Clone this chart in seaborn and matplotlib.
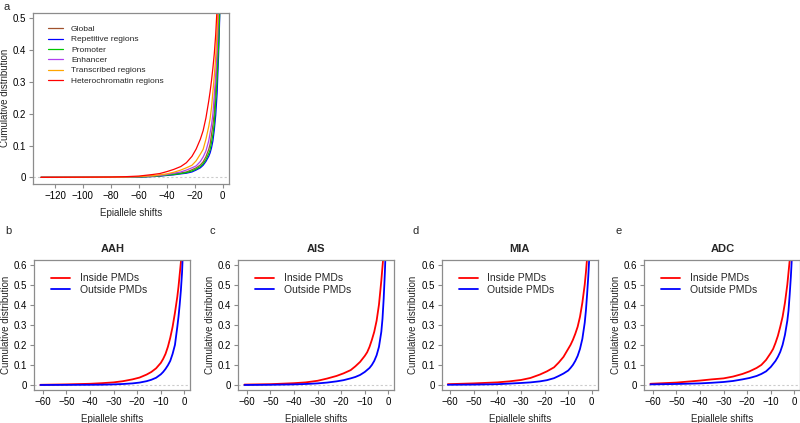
import numpy as np
import pandas as pd
import matplotlib
matplotlib.use('Agg')
import matplotlib.pyplot as plt
import seaborn as sns

# panel a: cumulative distribution read at each epiallele shift
shift_a = [-130, -100, -80, -70, -60, -50, -45, -40, -35, -30, -26, -22, -19, -16,
           -14, -12, -10, -9, -8, -7, -6, -5, -4, -3, -2.5, -2]
cum_global = [0, 0.0002, 0.0004, 0.0008, 0.0015, 0.0035, 0.005, 0.0075, 0.011, 0.014, 0.017, 0.024, 0.030, 0.039,
              0.049, 0.065, 0.088, 0.105, 0.135, 0.165, 0.205, 0.29, 0.37, 0.48, 0.55, 0.63]
cum_repetitive = [0, 0.0001, 0.0002, 0.0005, 0.001, 0.0025, 0.004, 0.006, 0.008, 0.011, 0.013, 0.017, 0.023, 0.030,
                  0.038, 0.050, 0.066, 0.077, 0.093, 0.115, 0.15, 0.196, 0.265, 0.38, 0.45, 0.53]
cum_promoter = [0, 0.0001, 0.0003, 0.0006, 0.0012, 0.003, 0.0045, 0.007, 0.009, 0.012, 0.015, 0.020, 0.026, 0.034,
                0.043, 0.056, 0.075, 0.087, 0.11, 0.135, 0.17, 0.24, 0.31, 0.41, 0.47, 0.54]
cum_enhancer = [0, 0.0002, 0.0005, 0.001, 0.002, 0.0045, 0.006, 0.009, 0.013, 0.017, 0.023, 0.030, 0.036, 0.050,
                0.064, 0.083, 0.115, 0.14, 0.165, 0.20, 0.26, 0.32, 0.40, 0.53, 0.62, 0.70]
cum_transcribed = [0, 0.0003, 0.0007, 0.0012, 0.0025, 0.005, 0.008, 0.011, 0.016, 0.023, 0.030, 0.038, 0.052, 0.073,
                   0.088, 0.12, 0.16, 0.185, 0.22, 0.27, 0.32, 0.38, 0.46, 0.57, 0.65, 0.72]
cum_hetero = [0, 0.0005, 0.001, 0.002, 0.004, 0.009, 0.012, 0.018, 0.025, 0.034, 0.046, 0.066, 0.089, 0.120,
              0.147, 0.187, 0.24, 0.27, 0.305, 0.345, 0.39, 0.45, 0.535, 0.65, 0.72, 0.80]
regions_a = ['Global', 'Repetitive regions', 'Promoter', 'Enhancer',
             'Transcribed regions', 'Heterochromatin regions']
colors_a = ['#A0522D', '#0000FF', '#00C800', '#B040F0', '#FFA500', '#FF0000']

# panels b-e: inside / outside PMDs
stages = ['AAH', 'AIS', 'MIA', 'ADC']
letters = ['b', 'c', 'd', 'e']
shift_b = [-61, -50, -40, -35, -30, -26, -22, -19, -16, -14, -12, -10, -9, -8, -7, -6,
           -5, -4, -3, -2.5, -2, -1.5, -1, -0.5]
inside = {
    'AAH': [0.001, 0.003, 0.006, 0.009, 0.013, 0.019, 0.028, 0.037, 0.052, 0.065, 0.083, 0.11, 0.13,
            0.155, 0.19, 0.235, 0.29, 0.36, 0.44, 0.49, 0.55, 0.61, 0.70, 0.80],
    'AIS': [0.002, 0.004, 0.009, 0.013, 0.021, 0.032, 0.045, 0.058, 0.074, 0.093, 0.115, 0.145, 0.163,
            0.19, 0.225, 0.265, 0.32, 0.40, 0.52, 0.59, 0.66, 0.74, 0.82, 0.90],
    'MIA': [0.004, 0.008, 0.013, 0.018, 0.025, 0.035, 0.052, 0.068, 0.088, 0.112, 0.14, 0.18, 0.20,
            0.225, 0.255, 0.29, 0.34, 0.41, 0.50, 0.56, 0.63, 0.70, 0.78, 0.88],
    'ADC': [0.006, 0.012, 0.022, 0.028, 0.033, 0.042, 0.055, 0.068, 0.085, 0.10, 0.125, 0.16, 0.18,
            0.21, 0.245, 0.29, 0.34, 0.41, 0.50, 0.56, 0.62, 0.69, 0.77, 0.87],
}
outside = {
    'AAH': [0.0, 0.0005, 0.001, 0.0015, 0.003, 0.005, 0.008, 0.012, 0.019, 0.026, 0.036, 0.053, 0.065,
            0.08, 0.098, 0.12, 0.155, 0.20, 0.29, 0.34, 0.40, 0.47, 0.56, 0.70],
    'AIS': [0.0, 0.001, 0.003, 0.005, 0.008, 0.012, 0.018, 0.024, 0.033, 0.040, 0.050, 0.065, 0.075,
            0.085, 0.10, 0.12, 0.148, 0.19, 0.265, 0.33, 0.43, 0.56, 0.72, 0.90],
    'MIA': [0.001, 0.002, 0.004, 0.007, 0.010, 0.013, 0.018, 0.024, 0.034, 0.045, 0.057, 0.072, 0.085,
            0.10, 0.12, 0.145, 0.18, 0.23, 0.31, 0.37, 0.45, 0.54, 0.65, 0.80],
    'ADC': [0.003, 0.005, 0.008, 0.011, 0.015, 0.020, 0.028, 0.035, 0.045, 0.055, 0.068, 0.09, 0.105,
            0.12, 0.14, 0.165, 0.20, 0.25, 0.32, 0.37, 0.45, 0.54, 0.65, 0.80],
}

sns.set_style('ticks')
plt.rcParams['font.family'] = ['Liberation Sans', 'DejaVu Sans']
plt.rcParams['axes.edgecolor'] = '#8c8c8c'
plt.rcParams['xtick.color'] = '#8c8c8c'
plt.rcParams['ytick.color'] = '#8c8c8c'
plt.rcParams['xtick.labelcolor'] = 'black'
plt.rcParams['ytick.labelcolor'] = 'black'

fig = plt.figure(figsize=(8, 4.23), dpi=100)


def style_axes(ax):
    for s in ax.spines.values():
        s.set_visible(True)
        s.set_linewidth(0.9)
    ax.tick_params(labelsize=7, length=3, width=0.8, pad=2)
    ax.set_ylabel('Cumulative distribution', fontsize=7, labelpad=2)
    ax.set_xlabel('Epiallele shifts', fontsize=7, labelpad=5)


def minus(vals):
    return [str(v).replace('-', '\u2212') for v in vals]


# panel a
ax = fig.add_axes([0.0416, 0.5657, 0.245, 0.4043])
cums = [cum_global, cum_repetitive, cum_promoter, cum_enhancer, cum_transcribed, cum_hetero]
df_a = pd.concat([pd.DataFrame({'shift': shift_a, 'cum': c, 'region': r})
                  for r, c in zip(regions_a, cums)])
ax.axhline(0, color='#cccccc', lw=0.8, ls=(0, (2, 2)), zorder=0)
sns.lineplot(data=df_a, x='shift', y='cum', hue='region', hue_order=regions_a,
             palette=colors_a, estimator=None, sort=False, linewidth=0.9, ax=ax)
ax.set_xlim(-135.5, 4.7)
ax.set_ylim(-0.02, 0.518)
ax.set_xticks(np.arange(-120, 1, 20))
ax.set_xticklabels(minus(range(-120, 1, 20)))
ax.set_yticks([0, 0.1, 0.2, 0.3, 0.4, 0.5])
ax.set_yticklabels(['0', '0.1', '0.2', '0.3', '0.4', '0.5'])
style_axes(ax)
ax.legend(loc='upper left', frameon=False, fontsize=6, handlelength=1.9,
          handletextpad=0.9, labelspacing=0.3, bbox_to_anchor=(0.035, 0.97))
fig.text(0.004, 0.995, 'a', fontsize=8, va='top')

# panels b-e
lefts = [34.3, 238.3, 441.7, 644.3]
for i, st in enumerate(stages):
    ax = fig.add_axes([lefts[i] / 800, 0.078, 156 / 800, 0.307])
    d = pd.concat([
        pd.DataFrame({'shift': shift_b, 'cum': inside[st], 'grp': 'Inside PMDs'}),
        pd.DataFrame({'shift': shift_b, 'cum': outside[st], 'grp': 'Outside PMDs'}),
    ])
    ax.axhline(0, color='#cccccc', lw=0.8, ls=(0, (2, 2)), zorder=0)
    sns.lineplot(data=d, x='shift', y='cum', hue='grp', palette=['#FF0000', '#0000FF'],
                 estimator=None, sort=False, linewidth=1.3, ax=ax)
    ax.set_xlim(-63.6, 2.5)
    ax.set_ylim(-0.025, 0.622)
    ax.set_xticks(np.arange(-60, 1, 10))
    ax.set_xticklabels(minus(range(-60, 1, 10)))
    ax.set_yticks([0, 0.1, 0.2, 0.3, 0.4, 0.5, 0.6])
    ax.set_yticklabels(['0', '0.1', '0.2', '0.3', '0.4', '0.5', '0.6'])
    style_axes(ax)
    ax.set_title(st, fontsize=8, fontweight='bold', pad=6)
    ax.legend(loc='upper left', frameon=False, fontsize=7.5, handlelength=1.8,
              handletextpad=0.9, labelspacing=0.15, bbox_to_anchor=(0.05, 0.97))
    fig.text((lefts[i] - 29) / 800, 1 - 226 / 423, letters[i], fontsize=8, va='top')

fig.savefig('out.png', dpi=100)
